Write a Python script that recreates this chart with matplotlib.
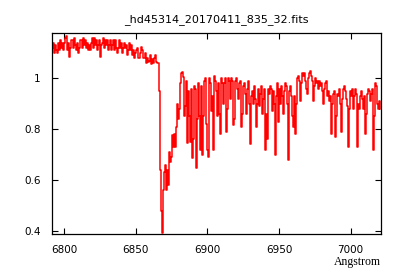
import numpy as np
import matplotlib
matplotlib.use("Agg")
import matplotlib.pyplot as plt

# Spectrum (normalised flux)
wave_start = 6791.6   # Angstrom, first pixel
wave_step = 0.698     # Angstrom per pixel

flux = [
  # 6792 - 6838: continuum
  1.12, 1.14, 1.10, 1.13, 1.11, 1.10, 1.14, 1.11, 1.15, 1.12,
  1.14, 1.11, 1.14, 1.16, 1.165, 1.11, 1.14, 1.085, 1.12, 1.15,
  1.15, 1.12, 1.16, 1.13, 1.11, 1.14, 1.10, 1.12, 1.15, 1.15,
  1.12, 1.16, 1.13, 1.15, 1.12, 1.14, 1.11, 1.13, 1.11, 1.14,
  1.16, 1.12, 1.16, 1.13, 1.15, 1.11, 1.13, 1.15, 1.085, 1.13,
  1.14, 1.16, 1.12, 1.15, 1.13, 1.15, 1.11, 1.13, 1.15, 1.11,
  1.13, 1.15, 1.11, 1.15, 1.12, 1.10, 1.12, 1.15, 1.12, 1.14,
  # 6841 - 6867
  1.10, 1.12, 1.14, 1.12, 1.13, 1.09, 1.11, 1.14, 1.11, 1.13,
  1.09, 1.11, 1.08, 1.10, 1.11, 1.12, 1.08, 1.08, 1.10, 1.125,
  1.11, 1.08, 1.08, 1.10, 1.06, 1.08, 1.065, 1.07, 1.09, 1.055,
  1.075, 1.06, 1.08, 1.09, 1.065, 1.06, 1.06, 0.95,
  # O2 B band head
  0.64, 0.48, 0.393, 0.56, 0.63, 0.66, 0.56, 0.64, 0.58, 0.71,
  0.67, 0.69, 0.777, 0.73, 0.78, 0.73, 0.81, 0.90, 0.84, 0.88,
  0.98, 1.02, 1.026, 1.006, 0.85, 0.89, 0.99, 0.745, 0.95, 0.85,
  0.75, 0.96, 0.686, 0.76, 0.97, 0.96, 0.647, 0.84, 0.98, 0.85,
  0.72, 0.97, 0.70, 0.85, 0.99, 1.00, 0.82, 0.72, 0.69, 1.00,
  0.98, 0.87, 0.93, 0.72, 1.01, 0.99, 0.95, 0.85, 0.98, 0.86,
  0.78, 1.00, 0.98, 0.90, 0.98, 1.00, 0.79, 0.88, 1.00, 0.99,
  0.92, 1.00, 0.99, 0.817, 0.84, 0.99, 1.00, 0.96, 0.92, 0.98,
  0.99, 0.81, 0.86, 0.97, 0.98, 0.94, 0.86, 0.96, 0.99, 0.90,
  0.74, 0.93, 0.95, 0.90, 0.97, 0.92, 0.81, 0.90, 0.96, 0.89,
  0.94, 0.97, 0.86, 0.92, 0.96, 0.72, 0.86, 0.76, 0.96, 0.94,
  0.97, 0.96, 0.87, 0.95, 0.90, 0.70, 0.93, 0.98, 0.83, 0.96,
  0.90, 0.97, 0.93, 0.86, 0.95, 0.98, 0.97, 0.90, 0.68, 0.95,
  0.97, 0.93, 0.85, 0.81, 0.93, 0.78, 0.90, 1.00, 1.01, 0.99,
  0.91, 0.98, 1.02, 1.01, 1.02, 0.99, 0.96, 0.94, 1.00, 1.02,
  1.03, 1.01, 0.99, 0.91, 0.97, 1.00, 0.98, 0.99, 0.96, 0.99,
  0.97, 0.98, 0.95, 0.90, 0.96, 0.98, 0.99, 0.93, 0.95, 0.91,
  0.93, 0.78, 0.90, 0.94, 0.95, 0.77, 0.85, 0.94, 0.93, 0.96,
  0.90, 0.79, 0.92, 0.96, 0.97, 0.95, 0.92, 0.89, 0.73, 0.88,
  0.95, 0.93, 0.96, 0.88, 0.93, 0.96, 0.94, 0.73, 0.90, 0.88,
  0.93, 0.95, 0.92, 0.88, 0.93, 0.78, 0.86, 0.94, 0.96, 0.95,
  0.91, 0.94, 0.96, 0.72, 0.85, 0.98, 0.97, 0.90, 0.88, 0.91,
  0.88,
]
wave = wave_start + wave_step * np.arange(len(flux))

xticks = [6800, 6850, 6900, 6950, 7000]
yticks = [0.4, 0.6, 0.8, 1.0]
ytick_labels = ["0.4", "0.6", "0.8", "1"]

# ------------------------------------------------------------------------------

fig = plt.figure(figsize=(4, 2.8), dpi=100)
ax = fig.add_axes([0.13, 0.165, 0.8225, 0.717])

ax.plot(wave, flux, color="red", lw=1.1, drawstyle="steps-mid")

ax.set_xlim(6791.6, 7021.2)
ax.set_ylim(0.389, 1.178)
ax.set_xticks(xticks)
ax.set_yticks(yticks)
ax.set_yticklabels(ytick_labels)

ax.tick_params(direction="in", length=4, width=0.8, top=True, right=True,
               labelsize=7.5, pad=8)
for s in ax.spines.values():
  s.set_linewidth(0.9)

ax.set_title("_hd45314_20170411_835_32.fits", fontsize=8, pad=8)
ax.set_xlabel("Angstrom", family="Liberation Serif", fontsize=8.5, labelpad=1)
ax.xaxis.set_label_coords(1.0, -0.11)
ax.xaxis.label.set_horizontalalignment("right")

fig.savefig("out.png", dpi=100)
